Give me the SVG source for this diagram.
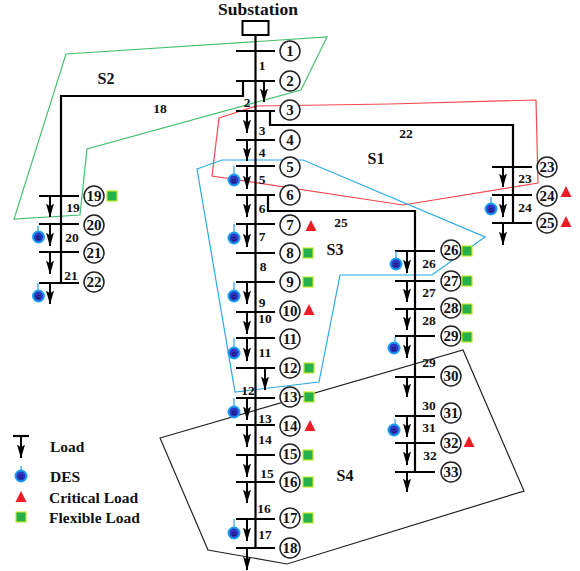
<svg xmlns="http://www.w3.org/2000/svg" xmlns:xlink="http://www.w3.org/1999/xlink" width="580" height="571" viewBox="0 0 580 571">
<style>
text{font-family:"Liberation Serif","Times New Roman",serif;font-weight:bold;fill:#111;text-anchor:middle;dominant-baseline:central}
.seg{font-size:13.5px}
.num{font-size:15px}
.sec{font-size:16px}
.leg{font-size:15.5px;text-anchor:start}
.g{font-size:6px;font-family:"Liberation Sans",sans-serif;fill:#101060}
.bus{stroke:#000;stroke-width:2.2;fill:none}
.line{stroke:#000;stroke-width:2.2;fill:none}
.load{stroke:#000;stroke-width:2;fill:none;marker-end:url(#ah)}
.ring{fill:#fff;stroke:#222;stroke-width:1.5}
.zone{fill:none;stroke-width:1.2}
.stub{stroke:#2aa0e8;stroke-width:1.2;fill:none}
.des{fill:#2f35c0;stroke:#18a0f0;stroke-width:2}
.flex{fill:#22b14c;stroke:#c4e82a;stroke-width:1.2}
.crit{fill:#ee1c25}
</style>
<defs>
<marker id="ah" markerUnits="userSpaceOnUse" markerWidth="14" markerHeight="10" refX="13.5" refY="5" orient="auto" viewBox="0 0 14 10"><path d="M0 1L3 5L0 9L14 5Z" fill="#000"/></marker>
<g id="desg"><circle class="des" r="5.5"/><text class="g" y="0.5">G</text></g>
<rect id="fl" class="flex" x="-5" y="-5" width="10" height="10"/>
<path id="cr" class="crit" d="M-5.5 5L0 -6L5.5 5Z"/>
</defs>
<rect width="580" height="571" fill="#fff"/>
<g id="zones">
<path class="zone" stroke="#45c070" d="M66 54L327 37L301 90L87 149L80 215L14 219Z"/>
<path class="zone" stroke="#f04a50" d="M219 118L256 106L390 104L536 100L538 183L403 205L212 176Z"/>
<path class="zone" stroke="#2aaae8" d="M197 169L222 160L303 160L485 237L432 275L340 275L319 382L235 392Z"/>
<path class="zone" stroke="#222" d="M160 438L463 350L524 491L287 564L208 550Z"/>
<text class="sec" x="376" y="158">S1</text>
<text class="sec" x="106" y="78">S2</text>
<text class="sec" x="335" y="249">S3</text>
<text class="sec" x="345" y="475">S4</text>
</g>
<g id="connectors">
<path class="line" d="M255.500 35V548"/>
<path class="line" d="M243 82V96H61V283"/>
<path class="line" d="M270 111V125H513V223"/>
<path class="line" d="M268 195V211H415V472"/>
<g>
<text class="seg" x="262" y="65">1</text><text class="seg" x="247" y="102">2</text><text class="seg" x="262" y="130">3</text><text class="seg" x="262" y="152">4</text><text class="seg" x="262" y="179">5</text><text class="seg" x="262" y="208">6</text><text class="seg" x="262" y="236">7</text><text class="seg" x="263" y="266">8</text><text class="seg" x="262" y="302">9</text><text class="seg" x="265" y="318">10</text><text class="seg" x="265" y="352">11</text><text class="seg" x="248" y="390">12</text><text class="seg" x="265" y="418">13</text><text class="seg" x="265" y="439">14</text><text class="seg" x="267" y="473">15</text><text class="seg" x="264" y="508">16</text><text class="seg" x="265" y="534">17</text><text class="seg" x="160" y="108">18</text><text class="seg" x="73" y="207">19</text><text class="seg" x="72" y="237">20</text><text class="seg" x="71" y="275">21</text><text class="seg" x="406" y="133">22</text><text class="seg" x="525" y="178">23</text><text class="seg" x="525" y="207">24</text><text class="seg" x="341" y="222">25</text><text class="seg" x="429" y="263">26</text><text class="seg" x="429" y="292">27</text><text class="seg" x="429" y="320">28</text><text class="seg" x="429" y="362">29</text><text class="seg" x="429" y="405">30</text><text class="seg" x="429" y="427">31</text><text class="seg" x="430" y="455">32</text>
</g>
</g>
<g id="substation"><rect x="242.500" y="21" width="26" height="14" fill="#fff" stroke="#000" stroke-width="2"/><text x="258" y="9" font-size="17.500">Substation</text></g>
<g id="n1"><path class="bus" d="M236 51H275"/><circle class="ring" cx="290" cy="51" r="10"/><text class="num" x="290" y="51">1</text></g>
<g id="n2"><path class="bus" d="M236 81H275"/><path class="load" d="M264 81V102"/><circle class="ring" cx="290" cy="81" r="10"/><text class="num" x="290" y="81">2</text></g>
<g id="n3"><path class="bus" d="M236 111H275"/><path class="load" d="M247 111V133"/><circle class="ring" cx="290" cy="110" r="10"/><text class="num" x="290" y="110">3</text></g>
<g id="n4"><path class="bus" d="M236 140H275"/><path class="load" d="M247 140V161"/><circle class="ring" cx="290" cy="140" r="10"/><text class="num" x="290" y="140">4</text></g>
<g id="n5"><path class="bus" d="M236 166H275"/><path class="load" d="M247 166V189"/><path class="stub" d="M234 166V175"/><use xlink:href="#desg" x="234" y="180"/><circle class="ring" cx="290" cy="167" r="10"/><text class="num" x="290" y="167">5</text></g>
<g id="n6"><path class="bus" d="M236 195H275"/><path class="load" d="M247 195V217"/><circle class="ring" cx="290" cy="195" r="10"/><text class="num" x="290" y="195">6</text></g>
<g id="n7"><path class="bus" d="M236 224H275"/><path class="load" d="M247 224V247"/><path class="stub" d="M234 224V233"/><use xlink:href="#desg" x="234" y="238"/><circle class="ring" cx="290" cy="225" r="10"/><text class="num" x="290" y="225">7</text><use xlink:href="#cr" x="311" y="226"/></g>
<g id="n8"><path class="bus" d="M236 253H275"/><circle class="ring" cx="290" cy="253" r="10"/><text class="num" x="290" y="253">8</text><use xlink:href="#fl" x="308" y="253"/></g>
<g id="n9"><path class="bus" d="M236 282H275"/><path class="load" d="M247 282V304"/><path class="stub" d="M234 282V291"/><use xlink:href="#desg" x="234" y="296"/><circle class="ring" cx="290" cy="282" r="10"/><text class="num" x="290" y="282">9</text><use xlink:href="#fl" x="308" y="282"/></g>
<g id="n10"><path class="bus" d="M236 312H275"/><path class="load" d="M247 312V334"/><circle class="ring" cx="290" cy="311" r="10"/><text class="num" x="290" y="311">10</text><use xlink:href="#cr" x="309" y="310"/></g>
<g id="n11"><path class="bus" d="M236 338H275"/><path class="load" d="M247 338V361"/><path class="stub" d="M234 338V348"/><use xlink:href="#desg" x="234" y="353"/><circle class="ring" cx="290" cy="339" r="10"/><text class="num" x="290" y="339">11</text></g>
<g id="n12"><path class="bus" d="M236 368H275"/><path class="load" d="M265 368V390"/><circle class="ring" cx="290" cy="368" r="10"/><text class="num" x="290" y="368">12</text><use xlink:href="#fl" x="309" y="368"/></g>
<g id="n13"><path class="bus" d="M236 398H275"/><path class="load" d="M247 398V420"/><path class="stub" d="M234 398V407"/><use xlink:href="#desg" x="234" y="412"/><circle class="ring" cx="290" cy="397" r="10"/><text class="num" x="290" y="397">13</text><use xlink:href="#fl" x="309" y="397"/></g>
<g id="n14"><path class="bus" d="M236 425H275"/><path class="load" d="M247 425V447"/><circle class="ring" cx="290" cy="426" r="10"/><text class="num" x="290" y="426">14</text><use xlink:href="#cr" x="310" y="426"/></g>
<g id="n15"><path class="bus" d="M236 455H275"/><path class="load" d="M247 455V477"/><circle class="ring" cx="290" cy="454" r="10"/><text class="num" x="290" y="454">15</text><use xlink:href="#fl" x="308" y="455"/></g>
<g id="n16"><path class="bus" d="M236 482H275"/><path class="load" d="M247 482V503"/><circle class="ring" cx="290" cy="482" r="10"/><text class="num" x="290" y="482">16</text><use xlink:href="#fl" x="308" y="482"/></g>
<g id="n17"><path class="bus" d="M236 519H275"/><path class="load" d="M247 519V541"/><path class="stub" d="M234 519V528"/><use xlink:href="#desg" x="234" y="533"/><circle class="ring" cx="290" cy="518" r="10"/><text class="num" x="290" y="518">17</text><use xlink:href="#fl" x="308" y="518"/></g>
<g id="n18"><path class="bus" d="M236 548H275"/><path class="load" d="M247 548V570"/><circle class="ring" cx="290" cy="548" r="10"/><text class="num" x="290" y="548">18</text></g>
<g id="n19"><path class="bus" d="M39 196H79"/><path class="load" d="M50 196V217"/><circle class="ring" cx="94" cy="196" r="10"/><text class="num" x="94" y="196">19</text><use xlink:href="#fl" x="112" y="196"/></g>
<g id="n20"><path class="bus" d="M39 224H79"/><path class="load" d="M50 224V246"/><path class="stub" d="M38 226V232"/><use xlink:href="#desg" x="38.500" y="237"/><circle class="ring" cx="94" cy="225" r="10"/><text class="num" x="94" y="225">20</text></g>
<g id="n21"><path class="bus" d="M39 252H79"/><path class="load" d="M50 252V274"/><circle class="ring" cx="94" cy="253" r="10"/><text class="num" x="94" y="253">21</text></g>
<g id="n22"><path class="bus" d="M39 283H79"/><path class="load" d="M50 283V304"/><path class="stub" d="M38 283V291"/><use xlink:href="#desg" x="38.500" y="296"/><circle class="ring" cx="94" cy="282" r="10"/><text class="num" x="94" y="282">22</text></g>
<g id="n23"><path class="bus" d="M492 167H532"/><path class="load" d="M503 167V187"/><circle class="ring" cx="547" cy="167" r="10"/><text class="num" x="547" y="167">23</text></g>
<g id="n24"><path class="bus" d="M492 195H532"/><path class="load" d="M503 195V217"/><path class="stub" d="M491 197V204"/><use xlink:href="#desg" x="491" y="209"/><circle class="ring" cx="547" cy="196" r="10"/><text class="num" x="547" y="196">24</text><use xlink:href="#cr" x="566" y="192"/></g>
<g id="n25"><path class="bus" d="M492 223H532"/><path class="load" d="M503 223V245"/><circle class="ring" cx="547" cy="223" r="10"/><text class="num" x="547" y="223">25</text><use xlink:href="#cr" x="566" y="222"/></g>
<g id="n26"><path class="bus" d="M395 251H435"/><path class="load" d="M407 251V273"/><path class="stub" d="M396 251V259"/><use xlink:href="#desg" x="396" y="264"/><circle class="ring" cx="451" cy="250" r="10"/><text class="num" x="451" y="250">26</text><use xlink:href="#fl" x="467" y="251"/></g>
<g id="n27"><path class="bus" d="M395 281H435"/><path class="load" d="M407 281V302"/><circle class="ring" cx="451" cy="281" r="10"/><text class="num" x="451" y="281">27</text><use xlink:href="#fl" x="467" y="281"/></g>
<g id="n28"><path class="bus" d="M395 309H435"/><path class="load" d="M407 309V330"/><circle class="ring" cx="451" cy="308" r="10"/><text class="num" x="451" y="308">28</text><use xlink:href="#fl" x="467" y="309"/></g>
<g id="n29"><path class="bus" d="M395 336H435"/><path class="load" d="M407 336V358"/><path class="stub" d="M395 337V343"/><use xlink:href="#desg" x="394" y="348"/><circle class="ring" cx="451" cy="336" r="10"/><text class="num" x="451" y="336">29</text><use xlink:href="#fl" x="467" y="337"/></g>
<g id="n30"><path class="bus" d="M395 377H435"/><path class="load" d="M407 377V397"/><circle class="ring" cx="451" cy="376" r="10"/><text class="num" x="451" y="376">30</text></g>
<g id="n31"><path class="bus" d="M395 416H435"/><path class="load" d="M407 416V437"/><path class="stub" d="M395 419V425"/><use xlink:href="#desg" x="394" y="430"/><circle class="ring" cx="451" cy="413" r="10"/><text class="num" x="451" y="413">31</text></g>
<g id="n32"><path class="bus" d="M395 443H435"/><path class="load" d="M407 443V465"/><circle class="ring" cx="451" cy="443" r="10"/><text class="num" x="451" y="443">32</text><use xlink:href="#cr" x="469" y="442"/></g>
<g id="n33"><path class="bus" d="M395 472H435"/><path class="load" d="M407 472V492"/><circle class="ring" cx="451" cy="472" r="10"/><text class="num" x="451" y="472">33</text></g>
<g id="legend">
<path class="bus" d="M13 436H29"/><path class="load" d="M21 436V458"/><text class="leg" x="50" y="446">Load</text>
<path class="stub" d="M21 466V471"/><use xlink:href="#desg" x="21" y="476"/><text class="leg" x="50" y="476">DES</text>
<use xlink:href="#cr" x="21" y="497"/><text class="leg" x="49" y="497">Critical Load</text>
<use xlink:href="#fl" x="21" y="517"/><text class="leg" x="49" y="517">Flexible Load</text>
</g>
</svg>
